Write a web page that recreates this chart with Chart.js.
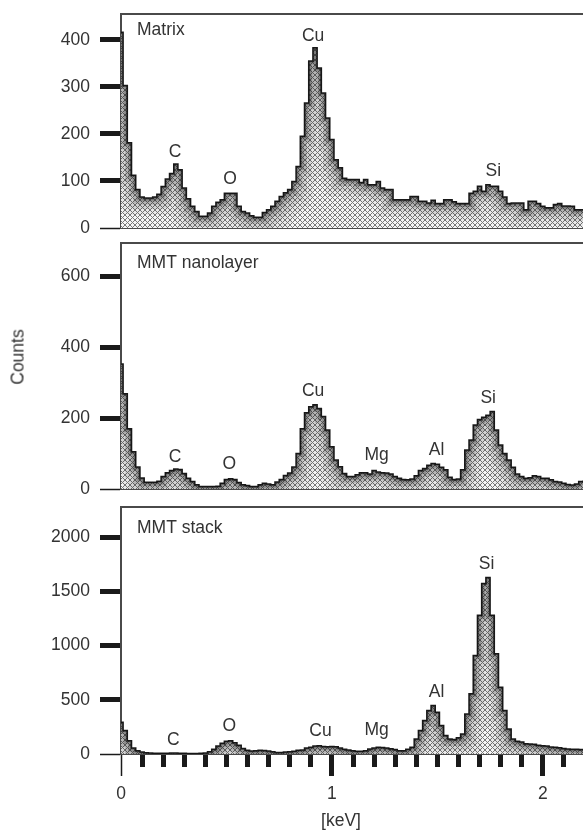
<!DOCTYPE html>
<html lang="en">
<head>
<meta charset="UTF-8">
<title>EDS spectra: Matrix / MMT nanolayer / MMT stack</title>
<script src="https://cdn.jsdelivr.net/npm/chart.js"></script>
<style>
body { margin: 0; width: 583px; height: 830px; overflow: hidden; background: #fff; position: relative;
  font-family: "Liberation Sans", Arial, sans-serif; color: #333; }
canvas { position: absolute; left: 0; top: 0; }
#matrix { top: -10px; }
#counts { position: absolute; left: 18px; top: 357px; transform: translate(-50%, -50%) rotate(-90deg); font-size: 17.5px; }
#kev { position: absolute; left: 341px; top: 820px; transform: translate(-50%, -50%); font-size: 17.5px; }
</style>
</head>
<body>
<canvas id="matrix" width="590" height="830"></canvas>
<canvas id="nanolayer" width="590" height="830"></canvas>
<canvas id="stack" width="590" height="830"></canvas>
<div id="counts">Counts</div>
<div id="kev">[keV]</div>

<script>
// channel width of the spectra (keV), channel 0 is centred on 0 keV
const binWidth = 0.02;

const matrixCounts = [
  416, 303, 181, 112, 82, 66, 64, 64, 66, 72, 88, 104, 116, 136, 124, 85, 62, 46, 35, 25,
  25, 32, 46, 55, 60, 74, 74, 74, 46, 35, 32, 26, 23, 23, 33, 39, 46, 57, 67, 75,
  82, 99, 131, 195, 266, 355, 383, 340, 287, 234, 188, 145, 128, 106, 103, 103, 103, 97, 103, 92,
  92, 99, 85, 82, 82, 60, 60, 60, 60, 67, 67, 57, 57, 53, 59, 52, 52, 60, 60, 56,
  52, 52, 52, 74, 78, 89, 78, 92, 89, 89, 78, 66, 52, 53, 53, 53, 39, 57, 57, 52,
  46, 43, 43, 50, 52, 47, 47, 46, 39, 39, 39
];
const nanolayerCounts = [
  352, 268, 170, 105, 62, 31, 19, 19, 19, 22, 35, 46, 52, 56, 55, 44, 30, 21, 12, 7,
  7, 7, 7, 8, 16, 27, 29, 27, 18, 12, 10, 7, 7, 12, 16, 14, 12, 20, 27, 38,
  45, 62, 100, 170, 215, 232, 237, 227, 204, 166, 119, 82, 63, 44, 35, 35, 40, 46, 46, 42,
  52, 48, 46, 45, 42, 35, 30, 27, 26, 28, 37, 52, 58, 67, 72, 70, 61, 54, 33, 27,
  28, 54, 110, 138, 180, 196, 202, 208, 218, 166, 124, 100, 82, 61, 42, 35, 30, 32, 37, 35,
  30, 30, 26, 21, 20, 16, 13, 11, 14, 21, 22
];
const stackCounts = [
  293, 216, 123, 56, 31, 18, 12, 10, 8, 8, 8, 8, 10, 10, 8, 6, 5, 5, 5, 6,
  10, 20, 45, 75, 100, 118, 123, 105, 80, 50, 35, 28, 30, 35, 32, 28, 20, 15, 15, 18,
  20, 25, 35, 38, 55, 62, 75, 77, 70, 68, 70, 66, 56, 45, 37, 30, 25, 25, 30, 46,
  55, 62, 60, 55, 48, 42, 31, 30, 45, 62, 139, 216, 309, 401, 448, 386, 262, 170, 139, 135,
  150, 185, 370, 556, 910, 1281, 1574, 1630, 1281, 926, 617, 401, 231, 139, 117, 110, 95, 93, 90, 80,
  77, 75, 65, 62, 58, 50, 46, 45, 44, 42, 40
];

// y tick labels of each panel
const matrixTicks = [0, 100, 200, 300, 400];
const nanolayerTicks = [0, 200, 400, 600];
const stackTicks = [0, 500, 1000, 1500, 2000];

// peak labels: element, energy (keV), label height (counts)
const matrixPeaks = ['C', 'O', 'Cu', 'Si'];
const matrixPeakKeV = [0.256, 0.517, 0.911, 1.765];
const matrixPeakAt = [162, 104, 407, 120];
const nanolayerPeaks = ['C', 'O', 'Cu', 'Mg', 'Al', 'Si'];
const nanolayerPeakKeV = [0.256, 0.513, 0.911, 1.212, 1.496, 1.741];
const nanolayerPeakAt = [91, 70, 276, 96, 110, 257];
const stackPeaks = ['C', 'O', 'Cu', 'Mg', 'Al', 'Si'];
const stackPeakKeV = [0.248, 0.513, 0.946, 1.212, 1.496, 1.733];
const stackPeakAt = [127, 259, 213, 219, 574, 1750];

const FONT = '"Liberation Sans", Arial, sans-serif';
const INK = '#333';
const FRAME = '#4a4a4a';

// cross-hatch fill
const tile = document.createElement('canvas');
tile.width = tile.height = 5;
const tc = tile.getContext('2d');
tc.fillStyle = '#f6f6f6';
tc.fillRect(0, 0, 5, 5);
tc.strokeStyle = '#7a7a7a';
tc.lineWidth = 1;
tc.beginPath();
tc.moveTo(0, 0); tc.lineTo(5, 5);
tc.moveTo(5, 0); tc.lineTo(0, 5);
tc.stroke();
const hatch = tc.createPattern(tile, 'repeat');

// darken the inside of the histogram along its outline
const shade = {
  id: 'shade',
  afterDatasetDraw(chart, args) {
    const line = args.meta.dataset;
    const pts = line.points;
    const { ctx, chartArea: a } = chart;
    const base = chart.scales.y.getPixelForValue(0);
    ctx.save();
    ctx.beginPath();
    ctx.rect(a.left, a.top, a.right - a.left, a.bottom - a.top);
    ctx.clip();
    ctx.beginPath();
    line.path(ctx);
    ctx.lineTo(pts[pts.length - 1].x, base);
    ctx.lineTo(pts[0].x, base);
    ctx.closePath();
    ctx.clip();
    for (const [w, al] of [[34, 0.06], [22, 0.1], [13, 0.16], [7, 0.24], [3, 0.4]]) {
      ctx.beginPath();
      line.path(ctx);
      ctx.lineWidth = w;
      ctx.strokeStyle = `rgba(20,20,20,${al})`;
      ctx.stroke();
    }
    ctx.restore();
  }
};

// panel name and element labels
const peakText = {
  id: 'peakText',
  afterDatasetsDraw(chart, args, o) {
    const { ctx, chartArea } = chart;
    const x = chart.scales.x, y = chart.scales.y;
    ctx.save();
    ctx.font = `17.5px ${FONT}`;
    ctx.fillStyle = INK;
    ctx.textAlign = 'center';
    ctx.textBaseline = 'middle';
    o.names.forEach((n, i) => ctx.fillText(n, x.getPixelForValue(o.kev[i]), y.getPixelForValue(o.at[i])));
    ctx.textAlign = 'left';
    ctx.fillText(o.title, chartArea.left + 16, chartArea.top + o.titleDy);
    ctx.restore();
  }
};

const thick = c => (Math.abs(c.tick.value) < 1e-9 ? 1.5 : 5);

function panel(id, counts, o) {
  const scales = {
    x: {
      type: 'linear', position: 'bottom', min: 0, max: 2.2, weight: 0,
      border: { color: FRAME, width: 2 },
      grid: { drawOnChartArea: false, drawTicks: o.xTicks, tickLength: 13, tickWidth: thick, tickColor: '#1a1a1a' },
      ticks: { display: false, stepSize: 0.1, includeBounds: false }
    },
    xt: {
      type: 'linear', position: 'top', min: 0, max: 2.2,
      border: { color: FRAME, width: 2 },
      grid: { drawOnChartArea: false, drawTicks: false },
      ticks: { display: false }
    },
    y: {
      type: 'linear', position: 'left', min: 0, max: o.ymax,
      afterFit(s) { s.width = 121; },
      afterBuildTicks(s) { s.ticks = o.yticks.map(v => ({ value: v })); },
      border: { color: FRAME, width: 2 },
      grid: { drawOnChartArea: false, tickLength: 21, tickWidth: thick, tickColor: '#1a1a1a' },
      ticks: { padding: 10, color: INK, font: { family: FONT, size: 17.5 }, callback: v => String(v) }
    }
  };
  if (o.xTicks) {
    scales.x2 = {
      type: 'linear', position: 'bottom', min: 0, max: 2.2, weight: 1,
      border: { display: false },
      grid: { drawOnChartArea: false, tickLength: 9, tickWidth: thick, tickColor: '#1a1a1a' },
      ticks: { stepSize: 1, includeBounds: false, padding: 8, color: INK, font: { family: FONT, size: 17.5 } }
    };
  }
  return new Chart(document.getElementById(id), {
    type: 'line',
    data: {
      datasets: [{
        data: counts.map((c, i) => ({ x: i * binWidth, y: c })),
        stepped: 'middle',
        fill: 'origin',
        backgroundColor: hatch,
        borderColor: '#1e1e1e',
        borderWidth: 1.5,
        pointRadius: 0
      }]
    },
    options: {
      responsive: false,
      animation: false,
      layout: { padding: { top: o.top, bottom: o.bottom, left: 0, right: 5 } },
      plugins: {
        legend: { display: false },
        tooltip: { enabled: false },
        peakText: { title: o.title, titleDy: o.titleDy, names: o.names, kev: o.kev, at: o.at }
      },
      scales
    },
    plugins: [shade, peakText]
  });
}

// the matrix canvas sits 10px higher so its tick labels get room above the frame
panel('matrix', matrixCounts, {
  title: 'Matrix', titleDy: 16, top: 24, bottom: 592, ymax: 455, yticks: matrixTicks, xTicks: false,
  names: matrixPeaks, kev: matrixPeakKeV, at: matrixPeakAt
});
panel('nanolayer', nanolayerCounts, {
  title: 'MMT nanolayer', titleDy: 20, top: 243, bottom: 341, ymax: 693, yticks: nanolayerTicks, xTicks: false,
  names: nanolayerPeaks, kev: nanolayerPeakKeV, at: nanolayerPeakAt
});
panel('stack', stackCounts, {
  title: 'MMT stack', titleDy: 21, top: 507, bottom: 17, ymax: 2280, yticks: stackTicks, xTicks: true,
  names: stackPeaks, kev: stackPeakKeV, at: stackPeakAt
});
</script>
</body>
</html>
